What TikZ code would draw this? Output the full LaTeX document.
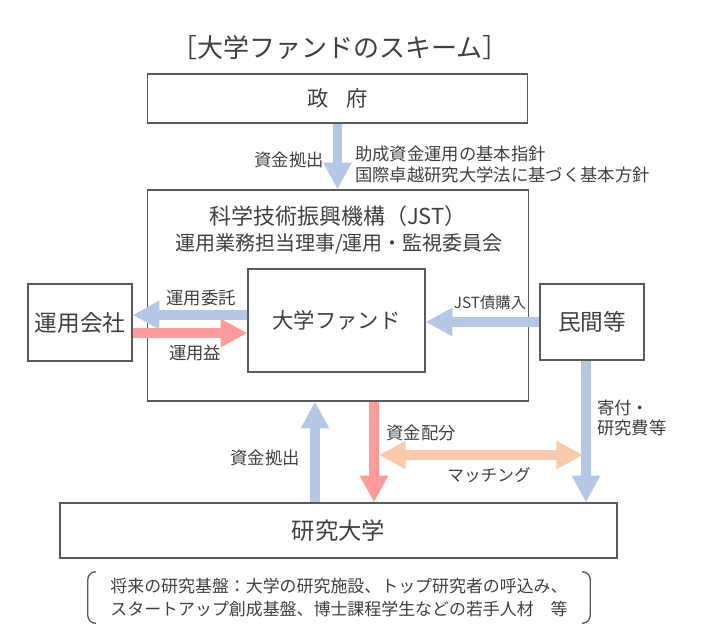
\documentclass[tikz,border=0pt]{standalone}
\usepackage{fontspec}
\setmainfont{Noto Sans CJK JP}
\usetikzlibrary{arrows.meta}

\definecolor{txtgray}{HTML}{404040}
\definecolor{linegray}{HTML}{5A5A5A}
\definecolor{arrblue}{HTML}{B4C7E7}
\definecolor{arrred}{HTML}{FF9B9B}
\definecolor{arrorange}{HTML}{F8CBAD}

\tikzset{
	box/.style={draw=linegray, line width=1pt, text=txtgray, inner sep=0pt},
	lbl/.style={text=txtgray, inner sep=0pt, font=\fontsize{13pt}{15.75pt}\selectfont},
	flow/.style={line width=7pt, -{Triangle[length=20pt,width=20pt]}},
	bothflow/.style={line width=7pt, {Triangle[length=20pt,width=20pt]}-{Triangle[length=20pt,width=20pt]}},
}

\begin{document}
\begin{tikzpicture}[x=0.75pt,y=-0.75pt]
	\useasboundingbox (0,0) rectangle (721,637);

	\node[lbl,font=\fontsize{19.5pt}{22pt}\selectfont] (title) at (340,48) {［大学ファンドのスキーム］};

	\node[box,minimum width=285pt,minimum height=36.75pt,font=\fontsize{16pt}{18pt}\selectfont] (gov) at (337.5,98.5) {政\hspace{0.8em}府};

	\node[box,minimum width=285.75pt,minimum height=158.25pt] (jst) at (338,295.5) {};
	\node[lbl,font=\fontsize{16.5pt}{19pt}\selectfont] (jstname) at (338,216) {科学技術振興機構（JST）};
	\node[lbl,font=\fontsize{15pt}{18pt}\selectfont] (jstboard) at (339,244) {運用業務担当理事/運用・監視委員会};

	\node[box,minimum width=132.75pt,minimum height=77.25pt,font=\fontsize{16pt}{18pt}\selectfont] (fund) at (336.5,320.5) {大学ファンド};
	\node[box,minimum width=78pt,minimum height=57.75pt,font=\fontsize{17pt}{20pt}\selectfont] (unyo) at (80,322.5) {運用会社};
	\node[box,minimum width=78pt,minimum height=57pt,font=\fontsize{17pt}{20pt}\selectfont] (minkan) at (592,322) {民間等};

	\node[box,minimum width=417.75pt,minimum height=41.25pt,font=\fontsize{17.5pt}{20pt}\selectfont] (univ) at (338.5,530.5) {研究大学};

	\node[lbl,minimum width=376.5pt,minimum height=38.25pt,align=center,font=\fontsize{12.7pt}{17.25pt}\selectfont] (note) at (339,597.5) {将来の研究基盤：大学の研究施設、トップ研究者の呼込み、\\スタートアップ創成基盤、博士課程学生などの若手人材　等};
	\draw[linegray,line width=1pt,rounded corners=6pt] ([xshift=5pt]note.north west) -- (note.north west) -- (note.south west) -- ([xshift=5pt]note.south west);
	\draw[linegray,line width=1pt,rounded corners=6pt] ([xshift=-5pt]note.north east) -- (note.north east) -- (note.south east) -- ([xshift=-5pt]note.south east);

	% flows
	\draw[flow,arrblue] (gov.south) -- (gov.south |- jst.north);
	\draw[flow,arrblue] ([yshift=4.1pt]fund.west) -- ([yshift=4.1pt]fund.west -| unyo.east);
	\draw[flow,arrred] ([yshift=-7.9pt]unyo.east) -- ([yshift=-7.9pt]unyo.east -| fund.west);
	\draw[flow,arrblue] (minkan.west) -- (minkan.west -| fund.east);
	\draw[flow,arrblue] ([xshift=-4.5pt]minkan.south) -- ([xshift=-4.5pt]minkan.south |- univ.north);
	\draw[flow,arrblue] ([xshift=-17.25pt]jst.south |- univ.north) -- ([xshift=-17.25pt]jst.south);
	\draw[flow,arrred] ([xshift=27pt]jst.south) -- ([xshift=27pt]jst.south |- univ.north);

	\coordinate (matchL) at (379,455);
	\coordinate (matchR) at (583,455);
	\draw[bothflow,arrorange] (matchL) -- (matchR);

	% labels
	\node[lbl] (govfund) at (289,160) {資金拠出};
	\node[lbl,anchor=west,align=left] (policy) at (355,164) {助成資金運用の基本指針\\国際卓越研究大学法に基づく基本方針};
	\node[lbl] (entrust) at (201,298) {運用委託};
	\node[lbl] (gain) at (195,353) {運用益};
	\node[lbl,font=\fontsize{11.5pt}{14pt}\selectfont] (bond) at (490,303) {JST債購入};
	\node[lbl,anchor=west,align=left,font=\fontsize{13pt}{15pt}\selectfont] (donate) at (597,418) {寄付・\\研究費等};
	\node[lbl] (univfund) at (265,458) {資金拠出};
	\node[lbl] (alloc) at (421,433) {資金配分};
	\node[lbl,font=\fontsize{12.5pt}{15pt}\selectfont] (matching) at (489,475) {マッチング};
\end{tikzpicture}
\end{document}
